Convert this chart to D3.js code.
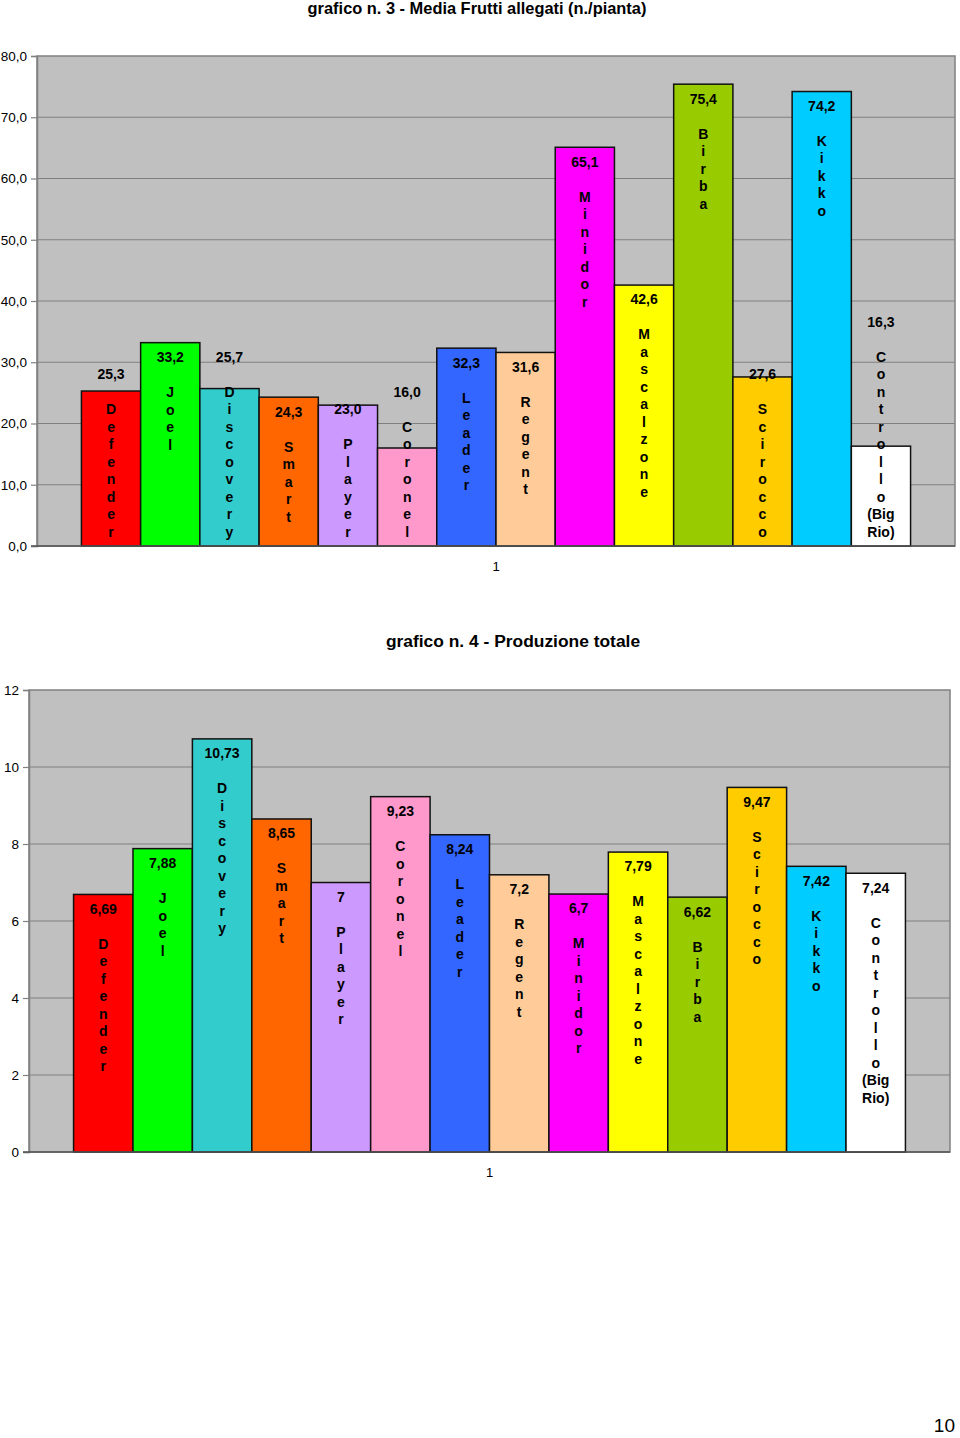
<!DOCTYPE html>
<html><head><meta charset="utf-8">
<script src="https://cdn.jsdelivr.net/npm/d3@7/dist/d3.min.js"></script>
<style>body{margin:0;background:#fff}svg{display:block}text{font-family:"Liberation Sans",Arial,sans-serif}</style>
</head><body>
<script>
const categories = ["Defender","Joel","Discovery","Smart","Player","Coronel","Leader","Regent","Minidor","Mascalzone","Birba","Scirocco","Kikko","Controllo (Big Rio)"];
const colors = ["#FF0000","#00FF00","#33CCCC","#FF6600","#CC99FF","#FF99CC","#3366FF","#FFCC99","#FF00FF","#FFFF00","#99CC00","#FFCC00","#00CCFF","#FFFFFF"];
const fruttiValues = [25.3,33.2,25.7,24.3,23.0,16.0,32.3,31.6,65.1,42.6,75.4,27.6,74.2,16.3];
const produzioneValues = [6.69,7.88,10.73,8.65,7,9.23,8.24,7.2,6.7,7.79,6.62,9.47,7.42,7.24];
const fruttiTicks = [0,10,20,30,40,50,60,70,80];
const produzioneTicks = [0,2,4,6,8,10,12];
const title1 = "grafico n. 3 - Media Frutti allegati (n./pianta)";
const title2 = "grafico n. 4 - Produzione totale";
const seriesName = "1";

const svg = d3.select("body").append("svg").attr("width",960).attr("height",1438);

function nameLines(name){
  const m = name.match(/^(\S+)(?:\s+(.*))?$/);
  const lines = m[1].split("");
  if (m[2]) m[2].split(" ").forEach(w=>lines.push(w));
  return lines;
}

function drawChart(opt){
  const g = svg.append("g");
  const x = d3.scaleBand().domain(categories).range([opt.left,opt.right]).paddingInner(0).paddingOuter(0.75);
  const y = d3.scaleLinear().domain([0,opt.max]).range([opt.bottom,opt.top]);
  g.append("rect").attr("x",opt.left).attr("y",opt.top).attr("width",opt.right-opt.left).attr("height",opt.bottom-opt.top)
    .attr("fill","#C0C0C0").attr("stroke","#808080").attr("stroke-width",1.5);
  g.selectAll(".grid").data(opt.ticks.slice(1,-1)).join("line")
    .attr("x1",opt.left).attr("x2",opt.right).attr("y1",d=>y(d)).attr("y2",d=>y(d))
    .attr("stroke","#808080").attr("stroke-width",1);
  const ax = g.append("g").attr("transform",`translate(${opt.left},0)`)
    .call(d3.axisLeft(y).tickValues(opt.ticks).tickSize(6).tickPadding(4).tickFormat(opt.tickFmt));
  ax.select(".domain").attr("stroke","#808080").attr("stroke-width",1.5);
  ax.selectAll(".tick line").attr("stroke","#808080").attr("stroke-width",1.2);
  ax.selectAll("text").attr("font-size",13.5).attr("fill","#000");
  g.selectAll(".bar").data(opt.values).join("rect")
    .attr("x",(d,i)=>x(categories[i])).attr("width",x.bandwidth())
    .attr("y",d=>y(d)).attr("height",d=>opt.bottom-y(d))
    .attr("fill",(d,i)=>colors[i]).attr("stroke","#111").attr("stroke-width",1.5);
  g.append("line").attr("x1",opt.left-6).attr("x2",opt.right).attr("y1",opt.bottom).attr("y2",opt.bottom)
    .attr("stroke","#555").attr("stroke-width",1.5);
  const lh = 17.5;
  opt.values.forEach((v,i)=>{
    const lines = [opt.valFmt(v),""].concat(nameLines(categories[i]));
    const start = Math.min(y(v)+14.5, opt.bottom-14-(lines.length-1)*lh);
    const cx = x(categories[i])+x.bandwidth()/2;
    g.append("text").attr("x",cx).attr("y",start).attr("text-anchor","middle")
      .attr("font-size",14).attr("font-weight","bold").attr("fill","#000")
      .selectAll("tspan").data(lines).join("tspan")
      .attr("x",cx).attr("y",(d,k)=>start+k*lh).attr("dy","0.35em")
      .text(d=>d);
  });
  g.append("text").attr("x",(opt.left+opt.right)/2).attr("y",opt.bottom+20).attr("dy","0.35em")
    .attr("text-anchor","middle").attr("font-size",13).text(seriesName);
  svg.append("text").attr("x",opt.titleX).attr("y",opt.titleY).attr("dy","0.35em").attr("text-anchor","middle")
    .attr("font-size",opt.titleSize).attr("font-weight","bold").text(opt.title);
}

drawChart({left:37,right:955,top:56,bottom:546,max:80,ticks:fruttiTicks,values:fruttiValues,
  tickFmt:d=>d3.format(".1f")(d).replace(".",","), valFmt:v=>d3.format(".1f")(v).replace(".",","),
  title:title1,titleX:477,titleY:8,titleSize:16.4});
drawChart({left:29,right:950,top:690,bottom:1152,max:12,ticks:produzioneTicks,values:produzioneValues,
  tickFmt:d=>String(d), valFmt:v=>String(v).replace(".",","),
  title:title2,titleX:513,titleY:641,titleSize:17.4});

svg.append("text").attr("x",955).attr("y",1425).attr("dy","0.35em").attr("text-anchor","end")
  .attr("font-family","'Liberation Serif','DejaVu Serif',serif").attr("font-size",19).text("10");
</script>
</body></html>
